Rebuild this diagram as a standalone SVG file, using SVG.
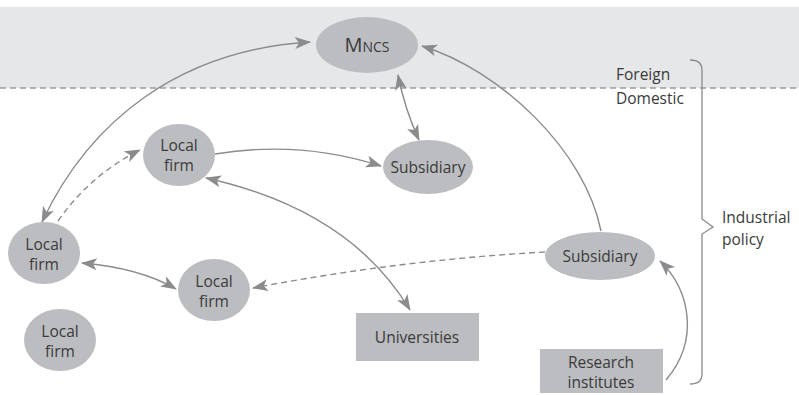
<svg xmlns="http://www.w3.org/2000/svg" width="799" height="395" viewBox="0 0 799 395">
<defs>
<style>
.node{fill:#bcbdc0;}
.t{font-family:"Open Sans","Liberation Sans",sans-serif;font-size:15.5px;fill:#3a3a3a;}
.c{fill:none;stroke:#8a8b8d;stroke-width:1.4;}
.d{stroke-dasharray:6 4;}
</style>
<marker id="ah" markerUnits="userSpaceOnUse" markerWidth="18" markerHeight="14" refX="15" refY="6" orient="auto-start-reverse" viewBox="0 0 18 14">
<path d="M0,0 L16,6 L0,12 L4,6 z" fill="#8a8b8d"/>
</marker>
</defs>
<rect x="0" y="7" width="799" height="81" fill="#e6e7e8"/>
<line x1="0" y1="88" x2="799" y2="88" stroke="#9a9b9d" stroke-width="1.3" stroke-dasharray="6 4"/>
<g id="bracket">
<path d="M690,60 Q702,60 702,70 L702,219 L713,227 L702,234 L702,374 Q702,384 690,384" fill="none" stroke="#8a8b8d" stroke-width="1.3"/>
<text class="t" x="616" y="80">Foreign</text>
<text class="t" x="616" y="104">Domestic</text>
<text class="t" x="722" y="223">Industrial</text>
<text class="t" x="722" y="245">policy</text>
</g>
<g id="connectors">
<path class="c" d="M42,222 C90,120 180,50 310,42" marker-start="url(#ah)" marker-end="url(#ah)"/>
<path class="c d" d="M58,221 Q90,175 140,150" marker-end="url(#ah)"/>
<path class="c" d="M215,154 Q300,140 381,166" marker-end="url(#ah)"/>
<path class="c" d="M398,75 Q405,110 419,140" marker-start="url(#ah)" marker-end="url(#ah)"/>
<path class="c" d="M601,231 C585,150 500,70 422,46" marker-end="url(#ah)"/>
<path class="c" d="M206,178 Q350,210 410,310" marker-start="url(#ah)" marker-end="url(#ah)"/>
<path class="c" d="M82,263 Q140,268 176,289" marker-start="url(#ah)" marker-end="url(#ah)"/>
<path class="c d" d="M545,252 Q400,260 253,288" marker-end="url(#ah)"/>
<path class="c" d="M666,380 C700,340 690,290 660,261" marker-end="url(#ah)"/>
</g>
<g id="mncs">
<ellipse class="node" cx="367" cy="45" rx="51" ry="28"/>
<text class="t" x="367" y="52" text-anchor="middle" style="font-size:20px">M<tspan style="font-size:14px">NCS</tspan></text>
</g>
<g id="localfirm-top">
<ellipse class="node" cx="179" cy="155" rx="36" ry="31"/>
<text class="t" x="179" y="151" text-anchor="middle">Local</text>
<text class="t" x="179" y="171" text-anchor="middle">firm</text>
</g>
<g id="subsidiary-mid">
<ellipse class="node" cx="428" cy="167" rx="45" ry="27"/>
<text class="t" x="428" y="173" text-anchor="middle">Subsidiary</text>
</g>
<g id="localfirm-left">
<ellipse class="node" cx="44" cy="253" rx="36" ry="31"/>
<text class="t" x="44" y="250" text-anchor="middle">Local</text>
<text class="t" x="44" y="270" text-anchor="middle">firm</text>
</g>
<g id="localfirm-mid">
<ellipse class="node" cx="214" cy="290" rx="36" ry="31"/>
<text class="t" x="214" y="287" text-anchor="middle">Local</text>
<text class="t" x="214" y="307" text-anchor="middle">firm</text>
</g>
<g id="subsidiary-right">
<ellipse class="node" cx="600" cy="256" rx="55" ry="24"/>
<text class="t" x="600" y="262" text-anchor="middle">Subsidiary</text>
</g>
<g id="universities">
<rect class="node" x="356" y="313" width="123" height="48"/>
<text class="t" x="417" y="343" text-anchor="middle">Universities</text>
</g>
<g id="localfirm-bottom">
<ellipse class="node" cx="60" cy="340" rx="36" ry="31"/>
<text class="t" x="60" y="337" text-anchor="middle">Local</text>
<text class="t" x="60" y="357" text-anchor="middle">firm</text>
</g>
<g id="research">
<rect class="node" x="540" y="349" width="123" height="44"/>
<text class="t" x="601" y="368" text-anchor="middle">Research</text>
<text class="t" x="601" y="388" text-anchor="middle">institutes</text>
</g>
</svg>
